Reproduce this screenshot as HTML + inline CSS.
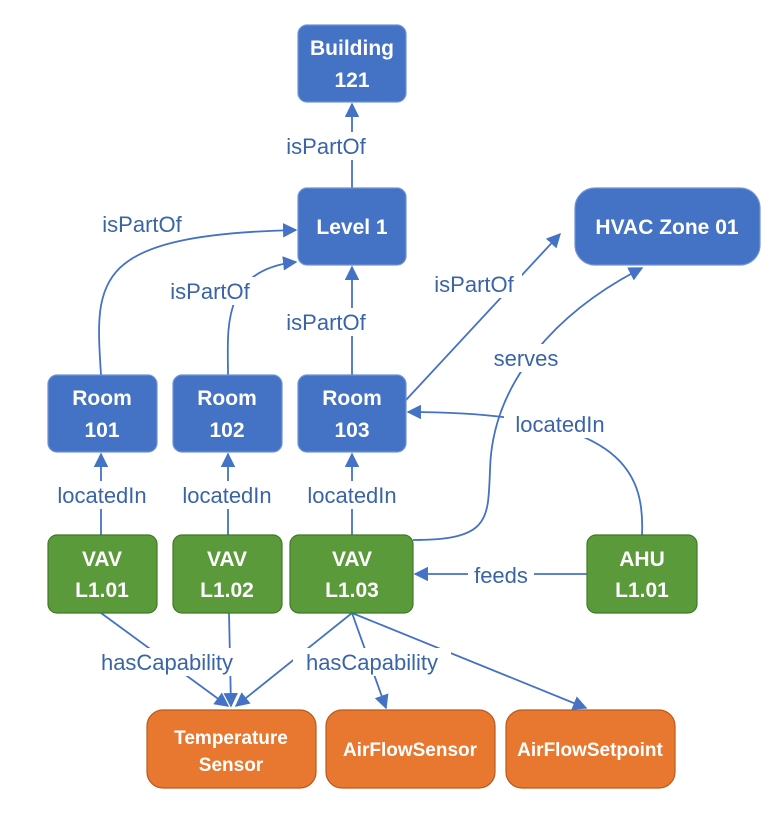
<!DOCTYPE html>
<html><head><meta charset="utf-8"><style>
html,body{margin:0;padding:0;background:#fff;}
svg{display:block;font-family:"Liberation Sans",Calibri,sans-serif;}
.nt{fill:#fff;font-weight:bold;font-size:21px;text-anchor:middle;}
.st{fill:#fff;font-weight:bold;font-size:19px;text-anchor:middle;}
.el{fill:#3a64a8;font-size:22px;text-anchor:middle;}
.e{fill:none;stroke:#4472C4;stroke-width:1.8;}
</style></head><body>
<svg width="774" height="815" viewBox="0 0 774 815">
<defs><marker id="ar" viewBox="0 0 10 10" refX="9" refY="5" markerWidth="8" markerHeight="8" orient="auto"><path d="M0,0L10,5L0,10z" fill="#4472C4"/></marker></defs>

<g>
<path class="e" d="M352,188 L352,104" marker-end="url(#ar)"/>
<path class="e" d="M101,375 C95,280 90,235 296,230" marker-end="url(#ar)"/>
<path class="e" d="M228,375 C228,330 220,270 296,262" marker-end="url(#ar)"/>
<path class="e" d="M352,375 L352,267" marker-end="url(#ar)"/>
<path class="e" d="M406,400 L560,234" marker-end="url(#ar)"/>
<path class="e" d="M413,540 C490,540 488,520 490,470 C492,380 560,310 642,268" marker-end="url(#ar)"/>
<path class="e" d="M642,535 C645,470 620,412 408,412" marker-end="url(#ar)"/>
<path class="e" d="M101,535 L101,454" marker-end="url(#ar)"/>
<path class="e" d="M228,535 L228,454" marker-end="url(#ar)"/>
<path class="e" d="M352,535 L352,454" marker-end="url(#ar)"/>
<path class="e" d="M587,574 L415,574" marker-end="url(#ar)"/>
<path class="e" d="M101,613 L228,706" marker-end="url(#ar)"/>
<path class="e" d="M229,613 L231,706" marker-end="url(#ar)"/>
<path class="e" d="M352,613 L236,706" marker-end="url(#ar)"/>
<path class="e" d="M352,613 L386,708" marker-end="url(#ar)"/>
<path class="e" d="M352,613 L586,708" marker-end="url(#ar)"/>
</g>

<g>
<rect x="278" y="132" width="96" height="28" fill="#fff"/><text class="el" x="326" y="154">isPartOf</text>
<rect x="94" y="210" width="96" height="28" fill="#fff"/><text class="el" x="142" y="232">isPartOf</text>
<rect x="162" y="277" width="96" height="28" fill="#fff"/><text class="el" x="210" y="299">isPartOf</text>
<rect x="278" y="308" width="96" height="28" fill="#fff"/><text class="el" x="326" y="330">isPartOf</text>
<rect x="426" y="270" width="96" height="28" fill="#fff"/><text class="el" x="474" y="292">isPartOf</text>
<rect x="488" y="344" width="76" height="28" fill="#fff"/><text class="el" x="526" y="366">serves</text>
<rect x="504" y="410" width="112" height="28" fill="#fff"/><text class="el" x="560" y="432">locatedIn</text>
<rect x="46" y="481" width="112" height="28" fill="#fff"/><text class="el" x="102" y="503">locatedIn</text>
<rect x="171" y="481" width="112" height="28" fill="#fff"/><text class="el" x="227" y="503">locatedIn</text>
<rect x="296" y="481" width="112" height="28" fill="#fff"/><text class="el" x="352" y="503">locatedIn</text>
<rect x="468" y="561" width="66" height="28" fill="#fff"/><text class="el" x="501" y="583">feeds</text>
<rect x="88" y="648" width="158" height="28" fill="#fff"/><text class="el" x="167" y="670">hasCapability</text>
<rect x="293" y="648" width="158" height="28" fill="#fff"/><text class="el" x="372" y="670">hasCapability</text>
</g>

<g fill="#4472C4" stroke="#6f93d3" stroke-width="1.2">
<rect x="298" y="25" width="108" height="77" rx="9"/>
<rect x="298" y="188" width="108" height="77" rx="9"/>
<rect x="575" y="188" width="185" height="77" rx="20"/>
<rect x="48" y="375" width="109" height="77" rx="9"/>
<rect x="173" y="375" width="109" height="77" rx="9"/>
<rect x="298" y="375" width="108" height="77" rx="9"/>
</g>
<text class="nt" x="352" y="55">Building</text><text class="nt" x="352" y="87">121</text>
<text class="nt" x="352" y="234">Level 1</text>
<text class="nt" x="667" y="234">HVAC Zone 01</text>
<text class="nt" x="102" y="405">Room</text><text class="nt" x="102" y="437">101</text>
<text class="nt" x="227" y="405">Room</text><text class="nt" x="227" y="437">102</text>
<text class="nt" x="352" y="405">Room</text><text class="nt" x="352" y="437">103</text>

<g fill="#5a9a3a" stroke="#3f7a25" stroke-width="1.2">
<rect x="48" y="535" width="109" height="78" rx="9"/>
<rect x="173" y="535" width="109" height="78" rx="9"/>
<rect x="290" y="535" width="123" height="78" rx="9"/>
<rect x="587" y="535" width="110" height="78" rx="9"/>
</g>
<text class="nt" x="102" y="566">VAV</text><text class="nt" x="102" y="597">L1.01</text>
<text class="nt" x="227" y="566">VAV</text><text class="nt" x="227" y="597">L1.02</text>
<text class="nt" x="352" y="566">VAV</text><text class="nt" x="352" y="597">L1.03</text>
<text class="nt" x="642" y="566">AHU</text><text class="nt" x="642" y="597">L1.01</text>

<g fill="#e8782f" stroke="#b85a1c" stroke-width="1.2">
<rect x="147" y="710" width="169" height="78" rx="16"/>
<rect x="326" y="710" width="169" height="78" rx="16"/>
<rect x="506" y="710" width="169" height="78" rx="16"/>
</g>
<text class="st" x="231" y="744">Temperature</text><text class="st" x="231" y="771">Sensor</text>
<text class="st" x="410" y="756">AirFlowSensor</text>
<text class="st" x="590" y="756">AirFlowSetpoint</text>
</svg>
</body></html>
